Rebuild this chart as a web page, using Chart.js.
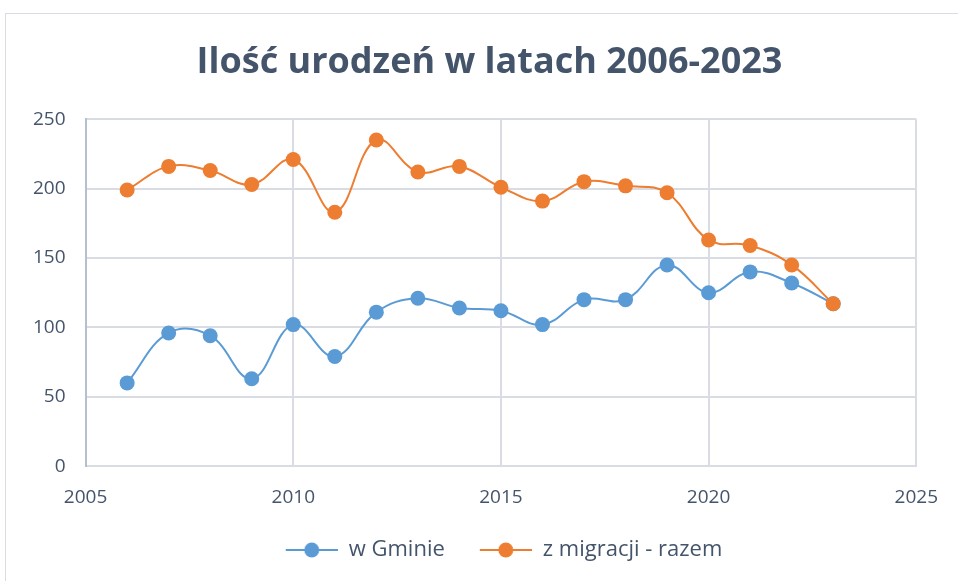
<!DOCTYPE html>
<html>
<head>
<meta charset="utf-8">
<script src="https://cdn.jsdelivr.net/npm/chart.js@4.4.0/dist/chart.umd.min.js"></script>
<style>
  html, body { margin: 0; padding: 0; background: #fff; }
  #frame { position: absolute; left: 5px; top: 13px; width: 1000px; height: 600px; border: 1px solid #d9dde3; }
  #wrap { position: absolute; left: 0; top: 0; width: 958px; height: 581px; }
</style>
</head>
<body>
<div id="frame"></div>
<div id="wrap"><canvas id="chart" width="958" height="581"></canvas></div>
<script>
// Data
const years = [2006, 2007, 2008, 2009, 2010, 2011, 2012, 2013, 2014, 2015, 2016, 2017, 2018, 2019, 2020, 2021, 2022, 2023];
const wGminie = [60, 96, 94, 63, 102, 79, 111, 121, 114, 112, 102, 120, 120, 145, 125, 140, 132, 117];
const zMigracji = [199, 216, 213, 203, 221, 183, 235, 212, 216, 201, 191, 205, 202, 197, 163, 159, 145, 117];
const xTicks = [2005, 2010, 2015, 2020, 2025];
const yTicks = [0, 50, 100, 150, 200, 250];

const textColor = '#44546a';
const gridColor = '#d9dde3';
const blue = '#5b9bd5';
const orange = '#ed7d31';

// Legend marker: line with a dot, like the Excel legend (blank on the left = gap between items)
const markerGap = 25;
function legendMarker(color) {
    const c = document.createElement('canvas');
    c.width = 52 + markerGap;
    c.height = 18;
    const ctx = c.getContext('2d');
    ctx.strokeStyle = color;
    ctx.lineWidth = 2;
    ctx.beginPath();
    ctx.moveTo(markerGap, 9);
    ctx.lineTo(markerGap + 52, 9);
    ctx.stroke();
    ctx.fillStyle = color;
    ctx.beginPath();
    ctx.arc(markerGap + 26, 9, 7.5, 0, Math.PI * 2);
    ctx.fill();
    return c;
}

// The original chart frame is wider than the picture, so title and legend sit right of the plot centre
const shiftBlocks = {
    id: 'shiftBlocks',
    afterLayout(chart, args, opts) {
        if (chart.titleBlock) { chart.titleBlock.left += opts.title; chart.titleBlock.right += opts.title; }
        if (chart.legend) { chart.legend.left += opts.legend; chart.legend.right += opts.legend; }
    }
};

function toPoints(values) {
    return years.map((y, i) => ({ x: y, y: values[i] }));
}

new Chart(document.getElementById('chart'), {
    type: 'line',
    data: {
        datasets: [
            {
                label: 'w Gminie',
                data: toPoints(wGminie),
                borderColor: blue,
                backgroundColor: blue,
                borderWidth: 2,
                pointRadius: 7.5,
                pointBorderWidth: 0,
                tension: 0.4,
                order: 1
            },
            {
                label: 'z migracji - razem',
                data: toPoints(zMigracji),
                borderColor: orange,
                backgroundColor: orange,
                borderWidth: 2,
                pointRadius: 7.5,
                pointBorderWidth: 0,
                tension: 0.4,
                order: 0
            }
        ]
    },
    plugins: [shiftBlocks],
    options: {
        responsive: false,
        animation: false,
        layout: { padding: { top: 41, left: 13, right: 40, bottom: 10 } },
        plugins: {
            shiftBlocks: { title: 24, legend: 26 },
            title: {
                display: true,
                text: 'Ilość urodzeń w latach 2006-2023',
                color: textColor,
                font: { family: 'Open Sans', size: 36, weight: 'bold' },
                padding: { top: 0, bottom: 35 }
            },
            legend: {
                position: 'bottom',
                labels: {
                    color: textColor,
                    font: { family: 'Open Sans', size: 22 },
                    usePointStyle: true,
                    pointStyleWidth: 52 + markerGap,
                    boxHeight: 18,
                    padding: 10,
                    generateLabels: chart => chart.data.datasets.map((ds, i) => ({
                        text: ds.label,
                        fontColor: textColor,
                        pointStyle: legendMarker(ds.borderColor),
                        datasetIndex: i,
                        hidden: false,
                        lineWidth: 0
                    }))
                }
            },
            tooltip: { enabled: false }
        },
        scales: {
            x: {
                type: 'linear',
                min: 2005,
                max: 2025,
                afterBuildTicks: axis => { axis.ticks = xTicks.map(v => ({ value: v })); },
                ticks: {
                    color: textColor,
                    font: { family: 'Open Sans', size: 19 },
                    padding: 20,
                    callback: v => String(v)
                },
                grid: { color: gridColor, lineWidth: 2, drawTicks: false },
                border: { color: gridColor, width: 2 }
            },
            y: {
                min: 0,
                max: 250,
                afterBuildTicks: axis => { axis.ticks = yTicks.map(v => ({ value: v })); },
                ticks: {
                    color: textColor,
                    font: { family: 'Open Sans', size: 19 },
                    padding: 20
                },
                grid: { color: gridColor, lineWidth: 2, drawTicks: false },
                border: { color: '#b4c0d2', width: 2 }
            }
        }
    }
});
</script>
</body>
</html>
